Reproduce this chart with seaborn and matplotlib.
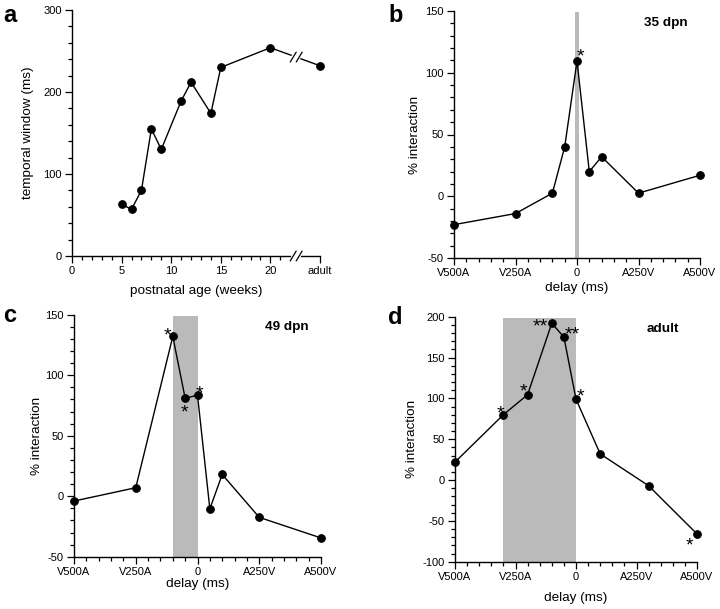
import matplotlib
matplotlib.use("Agg")
import matplotlib.pyplot as plt
import seaborn as sns
import pandas as pd

sns.set_theme(style="ticks")
plt.rcParams['font.family'] = ['Liberation Sans', 'DejaVu Sans']
plt.rcParams['axes.unicode_minus'] = False
plt.rcParams['text.color'] = 'black'
plt.rcParams['axes.labelcolor'] = 'black'

# ---------------- data ----------------
# panel a
age_weeks = [5, 6, 7, 8, 9, 11, 12, 14, 15, 20, 25]      # 25 = "adult" position
temporal_window = [63, 57, 80, 155, 130, 189, 212, 174, 230, 254, 232]
a_xticks = [0, 5, 10, 15, 20, 25]
a_xticklabels = ["0", "5", "10", "15", "20", "adult"]

delay_ticks = [-500, -250, 0, 250, 500]
delay_ticklabels = ["V500A", "V250A", "0", "A250V", "A500V"]

# panel b (35 dpn)
b_delay = [-500, -250, -100, -50, 0, 50, 100, 250, 500]
b_inter = [-23, -14, 2.5, 40, 109.5, 20, 32, 2.5, 17]
b_stars = ["", "", "", "", "*", "", "", "", ""]
b_band = (-10, 10, 149)

# panel c (49 dpn)
c_delay = [-500, -250, -100, -50, 0, 50, 100, 250, 500]
c_inter = [-4, 7, 132, 81, 83.5, -10.5, 18, -17.5, -34.5]
c_stars = ["", "", "*", "*", "*", "", "", "", ""]
c_band = (-100, 0, 149)

# panel d (adult)
d_delay = [-500, -300, -200, -100, -50, 0, 100, 300, 500]
d_inter = [22, 80, 104.5, 192, 175, 99, 32, -7, -66]
d_stars = ["", "*", "*", "**", "**", "*", "", "", "*"]
d_band = (-300, 0, 198)

# star offsets (pixels) relative to each point
b_star_off = [None, None, None, None, (3, 10), None, None, None, None]
c_star_off = [None, None, (-5, 7), (-1, -9), (2, 7), None, None, None, None]
d_star_off = [None, (-3, 7), (-4, 9), (-12, 2), (8, 8), (4, 8), None, None, (-8, -6)]

W, H = 720, 609
fig = plt.figure(figsize=(W / 100, H / 100), dpi=100)


def axes_px(left, right, top, bottom):
    return fig.add_axes([left / W, (H - bottom) / H, (right - left) / W, (bottom - top) / H])


ax_a = axes_px(72, 320, 10, 256)
ax_b = axes_px(454, 700, 11, 258)
ax_c = axes_px(74, 321, 314.7, 556.7)
ax_d = axes_px(455, 697, 316.7, 561.7)

TICK_FS = 8
LABEL_FS = 9.7
STAR_FS = 14


def style(ax):
    for s in ["top", "right"]:
        ax.spines[s].set_visible(False)
    for s in ["left", "bottom"]:
        ax.spines[s].set_linewidth(1.0)
        ax.spines[s].set_color("black")
    ax.tick_params(which="major", direction="out", length=5, width=0.9,
                   labelsize=TICK_FS, pad=2.5, colors="black")
    ax.tick_params(which="minor", direction="out", length=3, width=0.9, colors="black")
    ax.set_facecolor("white")


def draw_line(ax, x, y):
    df = pd.DataFrame({"x": x, "y": y})
    sns.lineplot(data=df, x="x", y="y", ax=ax, color="black", linewidth=1.0,
                 marker="o", markersize=5.5, markeredgecolor="black",
                 markerfacecolor="black", estimator=None, sort=False, clip_on=False,
                 zorder=3)


# ---------------- panel a ----------------
draw_line(ax_a, age_weeks, temporal_window)
ax_a.set_xlim(0, 25)
ax_a.set_ylim(0, 300)
style(ax_a)
ax_a.set_xticks(a_xticks)
ax_a.set_xticklabels(a_xticklabels)
ax_a.set_xticks([w for w in range(1, 22) if w % 5 != 0], minor=True)
ax_a.set_yticks([0, 100, 200, 300])
ax_a.set_yticks([v for v in range(20, 300, 20) if v % 100 != 0], minor=True)
ax_a.set_xlabel("postnatal age (weeks)", fontsize=LABEL_FS)
ax_a.set_ylabel("temporal window (ms)", fontsize=LABEL_FS)
ax_a.xaxis.set_label_coords(0.5, -0.118)
ax_a.yaxis.set_label_coords(-0.153, 0.5)

# break marks
brk = 22.6
ybrk = temporal_window[-2] + (temporal_window[-1] - temporal_window[-2]) * (brk - age_weeks[-2]) / (age_weeks[-1] - age_weeks[-2])
for yb in [ybrk, 0]:
    ax_a.plot([brk - 0.3, brk + 0.3], [yb, yb], color="white", lw=3, zorder=4, clip_on=False)
    for dx in (-0.3, 0.3):
        ax_a.plot([brk + dx - 0.3, brk + dx + 0.3], [yb - 6, yb + 6], color="black",
                  lw=0.9, zorder=5, clip_on=False)


# ---------------- panels b, c, d ----------------
def delay_panel(ax, x, y, band, stars, offs, ylim, ymajor, title):
    lo, hi, top = band
    ax.fill_between([lo, hi], [ylim[0]] * 2, [top] * 2, color="#bababa", lw=0, zorder=1)
    draw_line(ax, x, y)
    ax.set_xlim(-500, 500)
    ax.set_ylim(*ylim)
    style(ax)
    ax.set_xticks(delay_ticks)
    ax.set_xticklabels(delay_ticklabels)
    ax.set_xticks([v for v in range(-450, 500, 50) if v % 250 != 0], minor=True)
    ax.set_yticks(list(range(ylim[0], ylim[1] + 1, ymajor)))
    ax.set_yticks([v for v in range(ylim[0], ylim[1], 10) if v % ymajor != 0], minor=True)
    ax.set_xlabel("delay (ms)", fontsize=LABEL_FS)
    ax.set_ylabel("% interaction", fontsize=LABEL_FS)
    ax.text(0.86, 0.95, title, transform=ax.transAxes, ha="center", va="center",
            fontsize=LABEL_FS, fontweight="bold")
    for xi, yi, s, o in zip(x, y, stars, offs):
        if s and o is not None:
            ax.annotate(s, (xi, yi), xytext=(o[0] * 0.72, o[1] * 0.72 - 0.32 * STAR_FS),
                        textcoords="offset points", ha="center", va="center",
                        fontsize=STAR_FS, zorder=6, annotation_clip=False)


delay_panel(ax_b, b_delay, b_inter, b_band, b_stars, b_star_off, (-50, 150), 50, "35 dpn")
delay_panel(ax_c, c_delay, c_inter, c_band, c_stars, c_star_off, (-50, 150), 50, "49 dpn")
delay_panel(ax_d, d_delay, d_inter, d_band, d_stars, d_star_off, (-100, 200), 50, "adult")

ax_b.xaxis.set_label_coords(0.5, -0.097)
ax_b.yaxis.set_label_coords(-0.134, 0.5)
ax_c.xaxis.set_label_coords(0.5, -0.088)
ax_c.yaxis.set_label_coords(-0.126, 0.5)
ax_d.xaxis.set_label_coords(0.5, -0.124)
ax_d.yaxis.set_label_coords(-0.153, 0.5)

# panel letters
for lab, (px, py) in zip(["a", "b", "c", "d"], [(10, 15), (396, 15), (10, 316), (395, 318)]):
    fig.text(px / W, 1 - py / H, lab, ha="center", va="center", fontsize=17, fontweight="bold")

fig.savefig("out.png", dpi=100, facecolor="white")
